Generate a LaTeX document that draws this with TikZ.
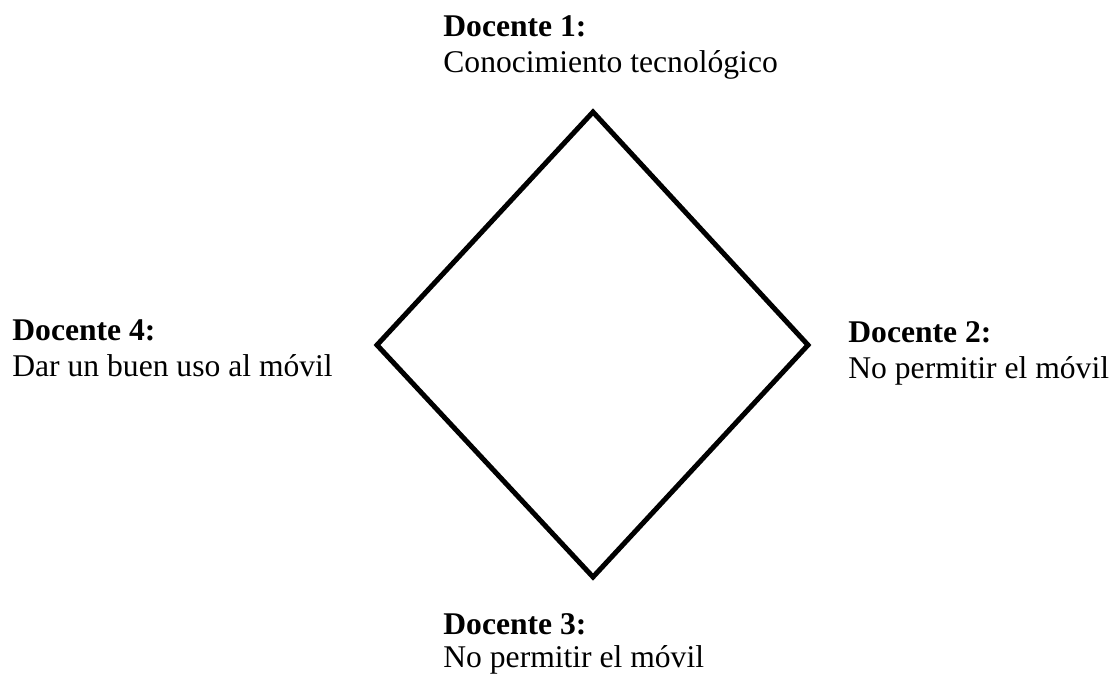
\documentclass[tikz,border=0pt]{standalone}
\usepackage{fontspec}
\setmainfont{Liberation Serif}
\usetikzlibrary{positioning}

\begin{document}
\begin{tikzpicture}[x=0.5pt,y=-0.5pt]
\tikzstyle{docente} = [anchor=north west, inner sep=0pt, align=left, font=\fontsize{15.8}{18}\selectfont]
\useasboundingbox (0,0) rectangle (1113,676);

%Corners of the diamond
 \coordinate (top) at (593,112);
 \coordinate (right) at (808,345);
 \coordinate (bottom) at (593,577);
 \coordinate (left) at (377,345);
 \draw[line width=2.5pt] (top) -- (right) -- (bottom) -- (left) -- cycle;

%One text for each teacher
 \node[docente] (doc1) at (443,15) {\textbf{Docente 1:}\\Conocimiento tecnológico};
 \node[docente] (doc2) at (848,321) {\textbf{Docente 2:}\\No permitir el móvil};
 \node[docente] (doc3) at (443,613) {\textbf{Docente 3:}\\[-1.5pt]No permitir el móvil};
 \node[docente] (doc4) at (12,319) {\textbf{Docente 4:}\\Dar un buen uso al móvil};

\end{tikzpicture}
\end{document}
